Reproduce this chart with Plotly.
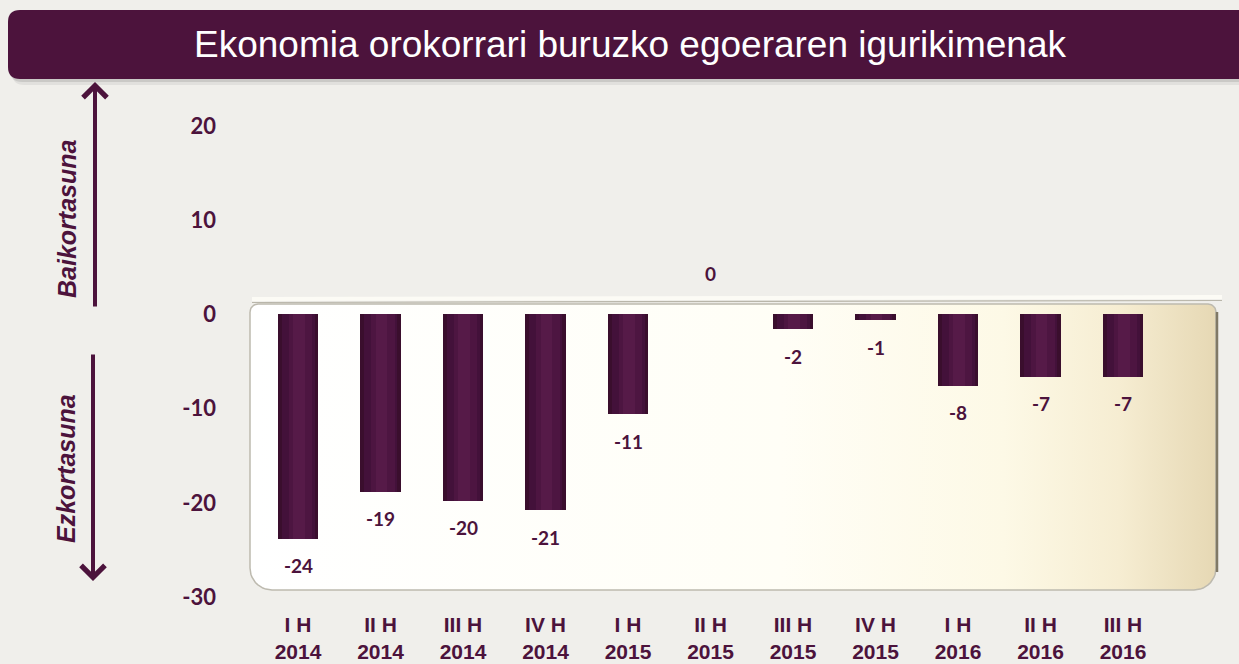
import numpy as np
import plotly.graph_objects as go

# ---------------- data ----------------
periods = ["I H", "II H", "III H", "IV H", "I H", "II H", "III H", "IV H", "I H", "II H", "III H"]
years = ["2014", "2014", "2014", "2014", "2015", "2015", "2015", "2015", "2016", "2016", "2016"]
values = [-23.8, -18.8, -19.8, -20.8, -10.6, 0.0, -1.6, -0.6, -7.6, -6.6, -6.6]
y_ticks = [20, 10, 0, -10, -20, -30]

categories = [f"{p}<br>{y}" for p, y in zip(periods, years)]
labels = [f"{round(v):.0f}" if round(v) != 0 else "0" for v in values]

title_text = "Ekonomia orokorrari buruzko egoeraren igurikimenak"
up_text = "Baikortasuna"
down_text = "Ezkortasuna"

# ---------------- styling / layout constants ----------------
W, H = 1239, 664
MAROON = "#4C133C"
BG = "#F0EFEB"

PX_L, PX_R = 240, 1230        # plot area in pixels (x)
PX_T, PX_B = 126, 597         # plot area in pixels (y)
CAT0_PX, CAT_STEP = 298, 82.5  # first category centre / spacing in px


def px(x):
    return x / W


def py(y):
    return 1 - y / H


n_cat = len(categories)
x2_range = [-(CAT0_PX - PX_L) / CAT_STEP,
            (n_cat - 1) + (PX_R - (CAT0_PX + CAT_STEP * (n_cat - 1))) / CAT_STEP]


def rounded_rect(x0, y0, x1, y1, r_tl, r_tr, r_br, r_bl, n=12):
    xs, ys = [], []
    def arc(cx, cy, r, a0, a1):
        t = np.linspace(a0, a1, n)
        xs.extend(cx + r * np.cos(t))
        ys.extend(cy + r * np.sin(t))
    arc(x0 + r_tl, y0 + r_tl, r_tl, np.pi, 1.5 * np.pi)
    arc(x1 - r_tr, y0 + r_tr, r_tr, 1.5 * np.pi, 2 * np.pi)
    arc(x1 - r_br, y1 - r_br, r_br, 0, 0.5 * np.pi)
    arc(x0 + r_bl, y1 - r_bl, r_bl, 0.5 * np.pi, np.pi)
    xs.append(xs[0]); ys.append(ys[0])
    return xs, ys


fig = go.Figure()

# ---- decorative panel (on pixel-unit base axes) ----
bx, by = rounded_rect(250, 304, 1216, 590, 8, 8, 22, 22)
fig.add_trace(go.Scatter(
    x=bx, y=by, mode="lines", fill="toself",
    line=dict(color="#BDBAAF", width=1.5),
    fillgradient=dict(type="horizontal",
                      colorscale=[[0, "#FFFFFF"], [0.55, "#FFFEF6"], [0.78, "#FDF9E6"],
                                  [0.9, "#F6EDD2"], [1, "#E6D8B4"]]),
    hoverinfo="skip", showlegend=False, xaxis="x", yaxis="y"))
fig.add_trace(go.Scatter(x=[1217, 1217], y=[312, 572], mode="lines",
                         line=dict(color="#807966", width=2.5),
                         hoverinfo="skip", showlegend=False, xaxis="x", yaxis="y"))
fig.add_trace(go.Scatter(x=[252, 1222], y=[299, 297], mode="lines",
                         line=dict(color="#FCFBF5", width=4),
                         hoverinfo="skip", showlegend=False, xaxis="x", yaxis="y"))
fig.add_trace(go.Scatter(x=[252, 1222], y=[302.5, 300.5], mode="lines",
                         line=dict(color="#B9B6AA", width=1.2),
                         hoverinfo="skip", showlegend=False, xaxis="x", yaxis="y"))

# ---- bars (cylinder look via overlaid bars) ----
bar_layers = [
    (0.485, None, "#3A0E2D"),
    (0.40, None, "#43113A"),
    (0.28, -0.11, "#4D1541"),
    (0.14, -0.06, "#561A48"),
]
for w, off, col in bar_layers:
    kw = dict(offset=off) if off is not None else {}
    fig.add_trace(go.Bar(
        x=categories, y=values, width=w,
        marker=dict(color=col, line=dict(width=0), opacity=1),
        hoverinfo="skip", showlegend=False, xaxis="x2", yaxis="y2", **kw))

# ---- data labels ----
annotations = []
for c, v, lab in zip(categories, values, labels):
    annotations.append(dict(
        x=c, y=v, xref="x2", yref="y2", text=f"<b>{lab}</b>", showarrow=False,
        yanchor="middle", xanchor="center",
        yshift=(-27 if v < 0 else 41),
        font=dict(family="Lato", size=19, color=MAROON)))

# ---- title ----
annotations.append(dict(
    x=px(630), y=py(45), xref="paper", yref="paper", text=title_text,
    showarrow=False, xanchor="center", yanchor="middle",
    font=dict(family="Liberation Sans, Arial", size=37, color="white")))

# ---- arrows ----
annotations.append(dict(
    x=px(95), y=py(82), xref="paper", yref="paper", ax=0, ay=226, text="",
    showarrow=True, arrowhead=4, arrowsize=1.15, arrowwidth=4, arrowcolor=MAROON))
annotations.append(dict(
    x=px(93), y=py(581), xref="paper", yref="paper", ax=0, ay=-228, text="",
    showarrow=True, arrowhead=4, arrowsize=1.15, arrowwidth=4, arrowcolor=MAROON))
annotations.append(dict(
    x=px(67), y=py(219), xref="paper", yref="paper", text=f"<b><i>{up_text}</i></b>",
    textangle=-90, showarrow=False, xanchor="center", yanchor="middle",
    font=dict(family="Liberation Sans, Arial", size=25, color=MAROON)))
annotations.append(dict(
    x=px(66), y=py(469), xref="paper", yref="paper", text=f"<b><i>{down_text}</i></b>",
    textangle=-90, showarrow=False, xanchor="center", yanchor="middle",
    font=dict(family="Liberation Sans, Arial", size=25, color=MAROON)))

# ---- title bar shapes ----
r = 12
def title_path(x0, y0, x1, y1, r):
    return (f"M {px(x0 + r)} {py(y0)} L {px(x1)} {py(y0)} L {px(x1)} {py(y1)} "
            f"L {px(x0 + r)} {py(y1)} Q {px(x0)} {py(y1)} {px(x0)} {py(y1 - r)} "
            f"L {px(x0)} {py(y0 + r)} Q {px(x0)} {py(y0)} {px(x0 + r)} {py(y0)} Z")

shapes = [
    dict(type="path", path=title_path(12, 16, 1260, 85, r), xref="paper", yref="paper",
         fillcolor="rgba(0,0,0,0.06)", line=dict(width=0), layer="below"),
    dict(type="path", path=title_path(10, 13, 1260, 82, r), xref="paper", yref="paper",
         fillcolor="rgba(0,0,0,0.10)", line=dict(width=0), layer="below"),
    dict(type="path", path=title_path(8, 10, 1260, 79, r), xref="paper", yref="paper",
         fillcolor=MAROON, line=dict(width=0), layer="above"),
]

dom_x = [px(PX_L), px(PX_R)]
dom_y = [py(PX_B), py(PX_T)]

fig.update_layout(
    width=W, height=H,
    margin=dict(l=0, r=0, t=0, b=0),
    paper_bgcolor=BG, plot_bgcolor="rgba(0,0,0,0)",
    barmode="overlay", bargap=0,
    showlegend=False,
    xaxis=dict(domain=dom_x, range=[PX_L, PX_R], visible=False, fixedrange=True),
    yaxis=dict(domain=dom_y, range=[PX_B, PX_T], visible=False, fixedrange=True),
    xaxis2=dict(overlaying="x", anchor="y2", type="category", range=x2_range,
                showgrid=False, zeroline=False, showline=False, ticks="",
                ticklabelstandoff=13, automargin=False,
                tickfont=dict(family="Liberation Sans, Arial", size=21, color=MAROON),
                tickprefix="<b>", ticksuffix="</b>"),
    yaxis2=dict(overlaying="y", anchor="x2", range=[-30, 20], tickvals=y_ticks,
                ticktext=[f"<b>{t}</b>" for t in y_ticks],
                showgrid=False, zeroline=False, showline=False, ticks="",
                ticklabelstandoff=23, automargin=False,
                tickfont=dict(family="Lato", size=22, color=MAROON)),
    annotations=annotations,
    shapes=shapes,
)

fig.write_html("out.html", config={"displayModeBar": False},
               post_script="document.body.style.margin='0';document.body.style.overflow='hidden';document.body.style.background='#F0EFEB';")
